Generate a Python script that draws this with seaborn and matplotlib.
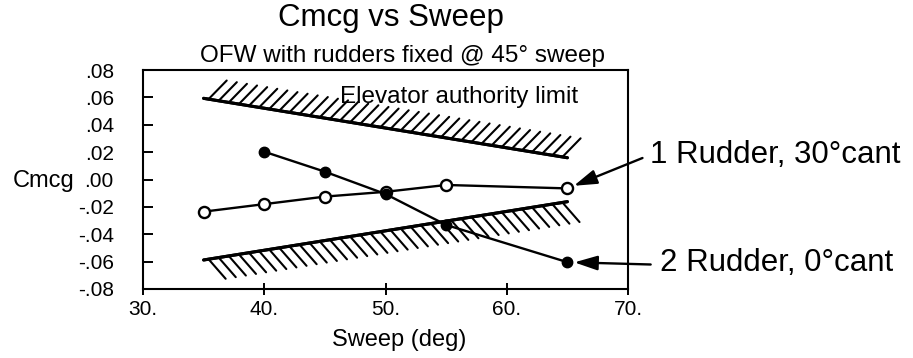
import numpy as np
import pandas as pd
import matplotlib
matplotlib.use("Agg")
import matplotlib.pyplot as plt
from matplotlib import patheffects as pe
from matplotlib.ticker import FuncFormatter, FixedLocator
import seaborn as sns

# ---- data ----
sweep_1rudder = [35, 40, 45, 50, 55, 65]
cmcg_1rudder = [-0.0235, -0.018, -0.0125, -0.009, -0.004, -0.0065]

sweep_2rudder = [40, 45, 50, 55, 65]
cmcg_2rudder = [0.0203, 0.0057, -0.0106, -0.0332, -0.0604]

limit_sweep = [35, 65]
upper_limit = [0.0593, 0.0159]
lower_limit = [-0.0588, -0.0162]

x_ticks = [30, 40, 50, 60, 70]
y_ticks = [-0.08, -0.06, -0.04, -0.02, 0.0, 0.02, 0.04, 0.06, 0.08]

title = "Cmcg vs Sweep"
subtitle = "OFW with rudders fixed @ 45\u00b0 sweep"
xlabel = "Sweep (deg)"
ylabel = "Cmcg"
limit_label = "Elevator authority limit"
label_1 = "1 Rudder, 30\u00b0cant"
label_2 = "2 Rudder, 0\u00b0cant"

# ---- style ----
sns.set_style("white")
plt.rcParams["font.family"] = ["Liberation Sans", "DejaVu Sans"]
plt.rcParams["text.color"] = "black"
plt.rcParams["axes.labelcolor"] = "black"
plt.rcParams["xtick.color"] = "black"
plt.rcParams["ytick.color"] = "black"

W, H = 913, 358
fig = plt.figure(figsize=(W / 100, H / 100), dpi=100)
ax = fig.add_axes([143 / W, 1 - 289 / H, 485 / W, 219 / H])

# limit lines with hatching
sns.lineplot(x=limit_sweep, y=upper_limit, ax=ax, color="black", lw=2.2,
             path_effects=[pe.withTickedStroke(angle=55, spacing=7.2, length=2.6, linewidth=1.5),
                           pe.Normal()])
sns.lineplot(x=limit_sweep, y=lower_limit, ax=ax, color="black", lw=2.2,
             path_effects=[pe.withTickedStroke(angle=-58, spacing=7.2, length=2.6, linewidth=1.5),
                           pe.Normal()])

# data series
sns.lineplot(x=sweep_1rudder, y=cmcg_1rudder, ax=ax, color="black", lw=1.7,
             marker="o", markersize=8, markerfacecolor="white",
             markeredgecolor="black", markeredgewidth=1.7)
sns.lineplot(x=sweep_2rudder, y=cmcg_2rudder, ax=ax, color="black", lw=1.7,
             marker="o", markersize=7.5, markerfacecolor="black",
             markeredgecolor="black", markeredgewidth=1.0)

ax.set_xlim(30, 70)
ax.set_ylim(-0.08, 0.08)
ax.xaxis.set_major_locator(FixedLocator(x_ticks))
ax.yaxis.set_major_locator(FixedLocator(y_ticks))


def yfmt(v, pos):
    v = round(v, 4)
    if abs(v) < 1e-9:
        return ".00"
    s = f"{v:.2f}"
    return s.replace("0.", ".")


ax.yaxis.set_major_formatter(FuncFormatter(yfmt))
ax.xaxis.set_major_formatter(FuncFormatter(lambda v, p: f"{v:.0f}."))
ax.tick_params(axis="y", direction="in", length=7, width=1.4, pad=21,
               labelsize=15, left=True, right=False, colors="black")
ax.tick_params(axis="x", direction="inout", length=8, width=1.4, pad=4,
               labelsize=15, bottom=True, top=False, colors="black")
for sp in ax.spines.values():
    sp.set_color("black")
    sp.set_linewidth(1.5)
ax.set_xlabel("")
ax.set_ylabel("")

# titles and axis labels
fig.text(391 / W, 1 - 18 / H, title, ha="center", va="center", fontsize=22.5, color="black")
fig.text(402 / W, 1 - 56 / H, subtitle, ha="center", va="center", fontsize=17.5, color="black")
fig.text(399 / W, 1 - 340 / H, xlabel, ha="center", va="center", fontsize=17, color="black")
fig.text(74 / W, 1 - 181 / H, ylabel, ha="right", va="center", fontsize=17, color="black")

ax.text(46.25, 0.0602, limit_label, ha="left", va="center", fontsize=17.5, color="black")

# annotations with arrows
arrow = dict(arrowstyle="-|>,head_length=0.7,head_width=0.22", color="black",
             lw=1.7, shrinkA=0, shrinkB=5, mutation_scale=20)
ax.annotate(label_1, xy=(sweep_1rudder[-1], cmcg_1rudder[-1]), xycoords="data",
            xytext=(650, H - 155), textcoords="figure pixels",
            ha="left", va="center", fontsize=22.5, color="black",
            arrowprops=dict(arrow, relpos=(-0.03, 0.4)), annotation_clip=False)
ax.annotate(label_2, xy=(sweep_2rudder[-1], cmcg_2rudder[-1]), xycoords="data",
            xytext=(660, H - 263), textcoords="figure pixels",
            ha="left", va="center", fontsize=22.5, color="black",
            arrowprops=dict(arrow, relpos=(-0.04, 0.45)), annotation_clip=False)

fig.savefig("out.png", dpi=100)
